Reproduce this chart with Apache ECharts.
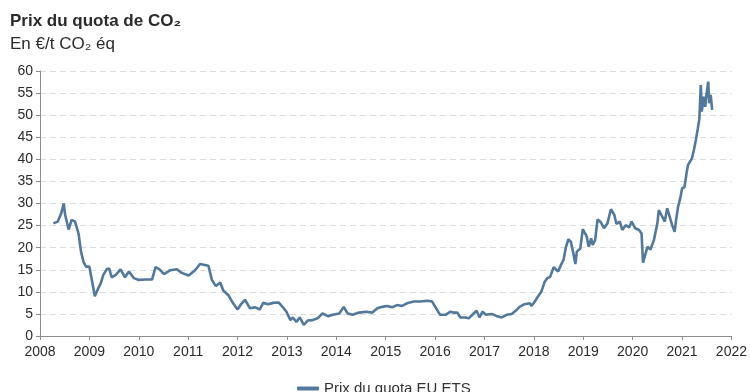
<!DOCTYPE html>
<html>
<head>
<meta charset="utf-8">
<script src="https://cdn.jsdelivr.net/npm/echarts@6/dist/echarts.min.js"></script>
<style>
  html, body { margin: 0; padding: 0; background: #fff; }
  #chart { width: 750px; height: 392px; }
</style>
</head>
<body>
<div id="chart"></div>
<script>
// Weekly-ish EU ETS allowance price, sampled as decimal years
const years = [
  2008.27, 2008.36, 2008.43, 2008.48, 2008.51, 2008.58, 2008.64, 2008.71, 2008.78, 2008.83,
  2008.88, 2008.93, 2009.00, 2009.05, 2009.11, 2009.18, 2009.23, 2009.28, 2009.35, 2009.40,
  2009.45, 2009.53, 2009.63, 2009.72, 2009.80, 2009.90, 2010.00, 2010.14, 2010.27, 2010.34,
  2010.42, 2010.51, 2010.64, 2010.77, 2010.87, 2011.01, 2011.14, 2011.24, 2011.41, 2011.48,
  2011.56, 2011.65, 2011.71, 2011.81, 2011.91, 2012.00, 2012.07, 2012.15, 2012.25, 2012.36,
  2012.45, 2012.52, 2012.62, 2012.72, 2012.83, 2012.92, 2012.99, 2013.07, 2013.12, 2013.19,
  2013.26, 2013.34, 2013.42, 2013.52, 2013.62, 2013.72, 2013.83, 2013.93, 2014.06, 2014.15,
  2014.23, 2014.33, 2014.46, 2014.60, 2014.73, 2014.83, 2014.93, 2015.03, 2015.13, 2015.23,
  2015.33, 2015.43, 2015.57, 2015.70, 2015.84, 2015.94, 2016.04, 2016.10, 2016.21, 2016.31,
  2016.37, 2016.45, 2016.51, 2016.61, 2016.68, 2016.78, 2016.84, 2016.90, 2016.96, 2017.03,
  2017.15, 2017.25, 2017.35, 2017.45, 2017.55, 2017.63, 2017.71, 2017.81, 2017.92, 2017.95,
  2018.02, 2018.08, 2018.15, 2018.22, 2018.27, 2018.33, 2018.40, 2018.49, 2018.55, 2018.60,
  2018.65, 2018.70, 2018.75, 2018.80, 2018.84, 2018.87, 2018.94, 2018.99, 2019.04, 2019.07,
  2019.11, 2019.16, 2019.19, 2019.24, 2019.29, 2019.36, 2019.42, 2019.49, 2019.56, 2019.63,
  2019.67, 2019.74, 2019.79, 2019.86, 2019.93, 2019.98, 2020.05, 2020.13, 2020.18, 2020.21,
  2020.25, 2020.30, 2020.36, 2020.43, 2020.50, 2020.53, 2020.60, 2020.65, 2020.70, 2020.75,
  2020.80, 2020.85, 2020.88, 2020.92, 2020.97, 2021.00, 2021.05, 2021.09, 2021.12, 2021.16,
  2021.20, 2021.24, 2021.28, 2021.32, 2021.35, 2021.38, 2021.40, 2021.44, 2021.47, 2021.49,
  2021.53, 2021.55, 2021.58, 2021.61
];
const prices = [
  25.5, 25.9, 27.8, 30.0, 27.4, 24.1, 26.3, 25.9, 23.2, 19.1,
  16.8, 15.7, 15.7, 12.7, 9.0, 10.8, 11.9, 13.8, 15.1, 15.3,
  13.3, 13.8, 15.1, 13.3, 14.6, 13.1, 12.7, 12.8, 12.8, 15.6,
  15.1, 14.0, 14.9, 15.1, 14.3, 13.7, 14.9, 16.3, 15.9, 12.7,
  11.3, 12.1, 10.3, 9.3, 7.4, 6.0, 7.2, 8.2, 6.3, 6.5,
  6.0, 7.5, 7.2, 7.5, 7.6, 6.5, 5.5, 3.6, 4.2, 3.2,
  4.2, 2.5, 3.5, 3.6, 4.0, 5.1, 4.5, 4.8, 5.1, 6.6,
  5.1, 4.8, 5.3, 5.5, 5.3, 6.3, 6.6, 6.8, 6.5, 7.0,
  6.8, 7.4, 7.8, 7.8, 8.0, 7.8, 5.9, 4.8, 4.8, 5.5,
  5.3, 5.3, 4.2, 4.2, 4.0, 5.1, 5.7, 4.2, 5.5, 4.8,
  5.0, 4.5, 4.2, 4.8, 5.0, 5.7, 6.6, 7.2, 7.4, 6.8,
  7.8, 8.9, 10.0, 12.3, 13.1, 13.4, 15.6, 14.6, 16.1, 17.2,
  20.2, 21.9, 21.3, 18.7, 16.3, 19.1, 19.8, 24.2, 23.2, 22.5,
  20.2, 22.1, 20.6, 21.7, 26.4, 25.7, 24.4, 25.5, 28.7, 27.4,
  25.4, 25.9, 24.0, 25.1, 24.6, 25.9, 24.4, 24.0, 23.2, 16.6,
  16.3, 20.2, 19.6, 21.7, 25.5, 28.5, 27.0, 25.9, 28.9, 27.0,
  25.1, 23.6, 26.3, 29.3, 31.5, 33.4, 33.7, 36.8, 38.7, 38.3,
  40.2, 42.1, 44.4, 47.0, 49.1, 56.8, 50.8, 54.2, 51.9, 54.2,
  57.6, 52.7, 54.6, 51.2
];
const seriesName = 'Prix du quota EU ETS';
const yTicks = [0, 5, 10, 15, 20, 25, 30, 35, 40, 45, 50, 55, 60];

const FONT = '"Liberation Sans", Arial, Helvetica, sans-serif';
const chart = echarts.init(document.getElementById('chart'), null, { renderer: 'canvas' });

chart.setOption({
  animation: false,
  backgroundColor: '#ffffff',
  title: {
    text: 'Prix du quota de CO₂',
    subtext: 'En €/t CO₂ éq',
    left: 5,
    top: 8,
    itemGap: 6,
    textStyle: { fontFamily: FONT, fontSize: 17, fontWeight: 'bold', color: '#2b2b2b' },
    subtextStyle: { fontFamily: FONT, fontSize: 17, color: '#2b2b2b' }
  },
  legend: {
    top: 376,
    left: 292,
    icon: 'roundRect',
    itemWidth: 22,
    itemHeight: 4,
    itemGap: 6,
    textStyle: { fontFamily: FONT, fontSize: 15, color: '#333333' },
    data: [seriesName]
  },
  grid: { left: 40, right: 14, top: 71, bottom: 56, containLabel: false },
  xAxis: {
    type: 'value',
    min: 2008,
    max: 2022,
    interval: 1,
    axisLine: { lineStyle: { color: '#8c8c8c', width: 1 } },
    axisTick: { show: true, length: 4, lineStyle: { color: '#8c8c8c' } },
    axisLabel: { fontFamily: FONT, fontSize: 14, color: '#2b2b2b', margin: 9, formatter: v => String(v) },
    splitLine: { show: false }
  },
  yAxis: {
    type: 'value',
    min: yTicks[0],
    max: yTicks[yTicks.length - 1],
    interval: 5,
    axisLine: { show: true, lineStyle: { color: '#8c8c8c', width: 1 } },
    axisTick: { show: true, length: 4, lineStyle: { color: '#8c8c8c' } },
    axisLabel: { fontFamily: FONT, fontSize: 14, color: '#2b2b2b', margin: 7 },
    splitLine: { show: true, lineStyle: { color: '#dcdcdc', type: [6, 4], width: 1 } }
  },
  series: [{
    name: seriesName,
    type: 'line',
    data: years.map((y, i) => [y, prices[i]]),
    showSymbol: false,
    symbol: 'none',
    lineStyle: { color: '#52789b', width: 2.6 },
    itemStyle: { color: '#52789b' }
  }]
});
</script>
</body>
</html>
